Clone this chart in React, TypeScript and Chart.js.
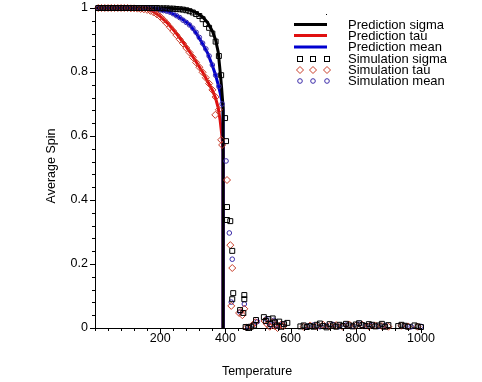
import React, { useEffect, useRef } from "react";
import { Chart, registerables } from "chart.js";

Chart.register(...registerables);

// ---------------- data ----------------
const predT = [0, 100, 150, 175, 200, 225, 250, 270, 290, 310, 330, 345, 360, 370, 378, 384, 388, 391, 393, 393];
const predSigma = [1, 1, 1, 1, 1, 0.999, 0.998, 0.997, 0.994, 0.986, 0.972, 0.955, 0.928, 0.9, 0.862, 0.8, 0.755, 0.715, 0.69, 0];
const predTau = [1, 1, 0.998, 0.991, 0.974, 0.95, 0.92, 0.893, 0.864, 0.832, 0.8, 0.772, 0.743, 0.718, 0.688, 0.648, 0.612, 0.58, 0.55, 0];
const predMean = [1, 1, 0.999, 0.997, 0.994, 0.989, 0.976, 0.963, 0.948, 0.922, 0.888, 0.86, 0.82, 0.79, 0.76, 0.735, 0.715, 0.7, 0.68, 0];

const lowT = [10, 20, 30, 40, 50, 60, 70, 80, 90, 100, 110, 120, 130, 140, 150, 160, 170, 180, 190, 200, 210, 220, 230, 240, 250, 260, 270, 280, 290, 300, 310, 320, 330, 340, 350, 360, 370, 380];

const simSigmaLow = [1, 1, 1, 1, 1, 1, 1, 1, 1, 1, 1, 1, 1, 1, 1, 1, 1, 1, 1, 0.999, 0.999, 0.999, 0.998, 0.998, 0.997, 0.996, 0.995, 0.993, 0.99, 0.986, 0.981, 0.975, 0.965, 0.95, 0.938, 0.92, 0.895, 0.85];
const simSigmaMidT = [387, 399, 402, 405, 405, 415, 421, 424, 421, 458, 458, 445, 455];
const simSigmaMid = [0.79, 0.656, 0.584, 0.378, 0.3375, 0.334, 0.241, 0.109, 0.09, 0.103, 0.09, 0.056, 0.047];
const simSigmaTailT = [462, 470, 478, 488, 494, 518, 524, 532, 538, 545, 552, 558, 565, 572, 580, 590, 630, 640, 650, 660, 670, 680, 690, 700, 710, 720, 730, 740, 750, 760, 770, 780, 790, 800, 810, 820, 830, 840, 850, 860, 870, 880, 890, 900, 930, 940, 950, 960, 980, 990, 1000];
const simSigmaTail = [0.003, 0.0, 0.004, 0.008, 0.025, 0.034, 0.022, 0.028, 0.012, 0.03, 0.018, 0.008, 0.02, 0.004, 0.012, 0.016, 0.005, 0.008, 0.003, 0.006, 0.004, 0.01, 0.014, 0.006, 0.002, 0.012, 0.008, 0.004, 0.01, 0.006, 0.013, 0.008, 0.005, 0.011, 0.015, 0.009, 0.006, 0.012, 0.01, 0.005, 0.008, 0.013, 0.004, 0.009, 0.006, 0.01, 0.007, 0.004, 0.008, 0.005, 0.003];

const simTauLow = [1, 1, 1, 1, 1, 1, 1, 1, 1, 1, 0.999, 0.999, 0.998, 0.997, 0.996, 0.994, 0.991, 0.986, 0.98, 0.973, 0.963, 0.952, 0.94, 0.928, 0.915, 0.902, 0.889, 0.875, 0.861, 0.846, 0.83, 0.815, 0.799, 0.782, 0.764, 0.744, 0.722, 0.682];
const simTauMidT = [369, 387, 390, 405, 415, 421, 418, 442, 458, 452];
const simTauMid = [0.666, 0.588, 0.572, 0.4625, 0.259, 0.1875, 0.069, 0.047, 0.06, 0.04];
const simTauTailT = [465, 480, 492, 520, 528, 536, 544, 552, 560, 570, 578, 640, 660, 680, 700, 720, 740, 760, 780, 800, 820, 840, 860, 880, 900, 940, 960, 990];
const simTauTail = [0.002, 0.006, 0.018, 0.022, 0.012, 0.004, 0.018, 0.006, 0.0, 0.01, 0.006, 0.004, 0.008, 0.005, 0.01, 0.006, 0.009, 0.004, 0.011, 0.007, 0.01, 0.005, 0.008, 0.006, 0.004, 0.007, 0.005, 0.004];

const simMeanLow = [1, 1, 1, 1, 1, 1, 1, 1, 1, 1, 1, 1, 1, 1, 1, 0.999, 0.998, 0.997, 0.996, 0.994, 0.992, 0.99, 0.987, 0.982, 0.976, 0.97, 0.962, 0.955, 0.947, 0.937, 0.924, 0.908, 0.89, 0.872, 0.85, 0.822, 0.79, 0.755];
const simMeanMidT = [390, 402, 412, 421, 418, 458, 445];
const simMeanMid = [0.7, 0.522, 0.297, 0.215, 0.081, 0.075, 0.05];
const simMeanTailT = [470, 485, 498, 525, 533, 541, 549, 557, 565, 575, 650, 670, 690, 710, 730, 750, 770, 790, 810, 830, 850, 870, 890, 950, 970, 1000];
const simMeanTail = [0.004, 0.01, 0.02, 0.028, 0.016, 0.008, 0.024, 0.01, 0.004, 0.012, 0.006, 0.009, 0.004, 0.008, 0.011, 0.005, 0.009, 0.006, 0.012, 0.007, 0.009, 0.005, 0.008, 0.006, 0.004, 0.005];

const xTickValues = [200, 400, 600, 800, 1000];
const xTickLabels = ["200", "400", "600", "800", "1000"];
const yTickValues = [0, 0.2, 0.4, 0.6, 0.8, 1];
const yTickLabels = ["0", "0.2", "0.4", "0.6", "0.8", "1"];

const legendLabels = ["Prediction sigma", "Prediction tau", "Prediction mean", "Simulation sigma", "Simulation tau", "Simulation mean"];
const xTitle = "Temperature";
const yTitle = "Average Spin";

// ---------------- styles ----------------
const FONT = "'Liberation Sans', Arial, sans-serif";
const C_BLACK = "#000000";
const C_RED = "#e01010";
const C_BLUE = "#0000d0";
const C_DIAMOND = "#c83c28";
const C_CIRCLE = "#3a2aa8";

const pts = (xs: number[], ys: number[]) => xs.map((x, i) => ({ x, y: ys[i] }));

const decorPlugin = {
  id: "decor",
  afterDraw(chart: any) {
    const ctx = chart.ctx as CanvasRenderingContext2D;
    const xs = chart.scales.x;
    const ys = chart.scales.y;
    const x0 = xs.getPixelForValue(0);
    const y0 = ys.getPixelForValue(0);
    ctx.save();
    ctx.strokeStyle = "#000";
    ctx.lineWidth = 1;
    for (let v = 0; v <= 1000; v += 40) {
      const px = Math.round(xs.getPixelForValue(v)) + 0.5;
      ctx.beginPath();
      ctx.moveTo(px, y0);
      ctx.lineTo(px, y0 + 3);
      ctx.stroke();
    }
    for (const v of xTickValues) {
      const px = Math.round(xs.getPixelForValue(v)) + 0.5;
      ctx.beginPath();
      ctx.moveTo(px, y0);
      ctx.lineTo(px, y0 + 5);
      ctx.stroke();
    }
    for (let k = 0; k <= 25; k++) {
      const v = k * 0.04;
      const py = Math.round(ys.getPixelForValue(v)) + 0.5;
      const major = k % 5 === 0;
      ctx.beginPath();
      ctx.moveTo(x0, py);
      ctx.lineTo(x0 - (major ? 5 : 3), py);
      ctx.stroke();
    }

    ctx.fillStyle = "#000";
    ctx.font = "12.5px " + FONT;
    ctx.textAlign = "center";
    ctx.textBaseline = "middle";
    ctx.fillText(xTitle, 257, 372);
    ctx.save();
    ctx.translate(52, 166);
    ctx.rotate(-Math.PI / 2);
    ctx.fillText(yTitle, 0, 0);
    ctx.restore();

    const rowY = [24.5, 35.5, 47, 58.5, 70, 81];
    ctx.font = "13px " + FONT;
    ctx.textAlign = "left";
    ctx.textBaseline = "middle";
    legendLabels.forEach((t, i) => ctx.fillText(t, 348, rowY[i] + 0.5));
    const lineCols = [C_BLACK, C_RED, C_BLUE];
    ctx.lineWidth = 3;
    lineCols.forEach((c, i) => {
      ctx.strokeStyle = c;
      ctx.beginPath();
      ctx.moveTo(294, rowY[i]);
      ctx.lineTo(327, rowY[i]);
      ctx.stroke();
    });
    ctx.lineWidth = 1;
    const mx = [300, 313, 327];
    ctx.strokeStyle = C_BLACK;
    mx.forEach((x) => ctx.strokeRect(x - 2.5, Math.round(rowY[3]) - 2.5, 5, 5));
    ctx.strokeStyle = C_DIAMOND;
    mx.forEach((x) => {
      const y = rowY[4];
      ctx.beginPath();
      ctx.moveTo(x, y - 3.5);
      ctx.lineTo(x + 3.5, y);
      ctx.lineTo(x, y + 3.5);
      ctx.lineTo(x - 3.5, y);
      ctx.closePath();
      ctx.stroke();
    });
    ctx.strokeStyle = C_CIRCLE;
    mx.forEach((x) => {
      ctx.beginPath();
      ctx.arc(x, rowY[5], 2.3, 0, Math.PI * 2);
      ctx.stroke();
    });
    ctx.fillStyle = "#000";
    ctx.fillRect(326, 14, 1, 1);
    ctx.restore();
  },
};

export default function App() {
  const ref = useRef<HTMLCanvasElement>(null);
  useEffect(() => {
    const canvas = ref.current!;
    const lineDs = (label: string, ys: number[], color: string, order: number) => ({
      label,
      data: pts(predT, ys),
      showLine: true,
      borderColor: color,
      backgroundColor: color,
      borderWidth: 3,
      pointRadius: 0,
      tension: 0,
      order,
      clip: false as any,
    });
    const simDs = (label: string, xs: number[], ys: number[], color: string, style: string, r: number) => ({
      label,
      data: pts(xs, ys),
      showLine: false,
      pointStyle: style,
      pointRadius: r,
      pointBorderWidth: 1,
      pointBorderColor: color,
      pointBackgroundColor: "rgba(0,0,0,0)",
      borderColor: color,
      backgroundColor: "rgba(0,0,0,0)",
      order: 0,
      clip: false as any,
    });
    const chart = new Chart(canvas, {
      type: "scatter",
      data: {
        datasets: [
          simDs("Simulation sigma", [...lowT, ...simSigmaMidT, ...simSigmaTailT], [...simSigmaLow, ...simSigmaMid, ...simSigmaTail], C_BLACK, "rect", 3.5),
          simDs("Simulation tau", [...lowT, ...simTauMidT, ...simTauTailT], [...simTauLow, ...simTauMid, ...simTauTail], C_DIAMOND, "rectRot", 3.5),
          simDs("Simulation mean", [...lowT, ...simMeanMidT, ...simMeanTailT], [...simMeanLow, ...simMeanMid, ...simMeanTail], C_CIRCLE, "circle", 2.3),
          lineDs("Prediction sigma", predSigma, C_BLACK, 1),
          lineDs("Prediction mean", predMean, C_BLUE, 2),
          lineDs("Prediction tau", predTau, C_RED, 3),
        ] as any,
      },
      options: {
        animation: false,
        responsive: false,
        maintainAspectRatio: false,
        layout: { padding: { top: 8, right: 61, left: 0, bottom: 0 } },
        plugins: { legend: { display: false }, tooltip: { enabled: false } },
        scales: {
          x: {
            type: "linear",
            min: 0,
            max: 1000,
            afterFit: (s: any) => { s.height = 54; s.paddingLeft = 0; s.paddingRight = 0; },
            afterBuildTicks: (s: any) => { s.ticks = xTickValues.map((v) => ({ value: v })); },
            grid: { display: false, drawTicks: false },
            border: { display: true, color: "#000", width: 1 },
            ticks: {
              autoSkip: false,
              maxRotation: 0,
              padding: 3,
              color: "#000",
              font: { family: FONT, size: 12.5 },
              callback: (_v: any, i: number) => xTickLabels[i],
            },
          },
          y: {
            type: "linear",
            min: 0,
            max: 1,
            afterFit: (s: any) => { s.width = 95; s.paddingTop = 0; s.paddingBottom = 0; },
            afterBuildTicks: (s: any) => { s.ticks = yTickValues.map((v) => ({ value: v })); },
            grid: { display: false, drawTicks: false },
            border: { display: true, color: "#000", width: 1 },
            ticks: {
              autoSkip: false,
              padding: 7,
              color: "#000",
              font: { family: FONT, size: 12.5 },
              callback: (_v: any, i: number) => yTickLabels[i],
            },
          },
        },
      } as any,
      plugins: [decorPlugin],
    });
    return () => chart.destroy();
  }, []);
  return (
    <canvas
      ref={ref}
      width={482}
      height={382}
      style={{ position: "fixed", left: 0, top: 0, width: 482, height: 382, background: "#fff" }}
    />
  );
}
